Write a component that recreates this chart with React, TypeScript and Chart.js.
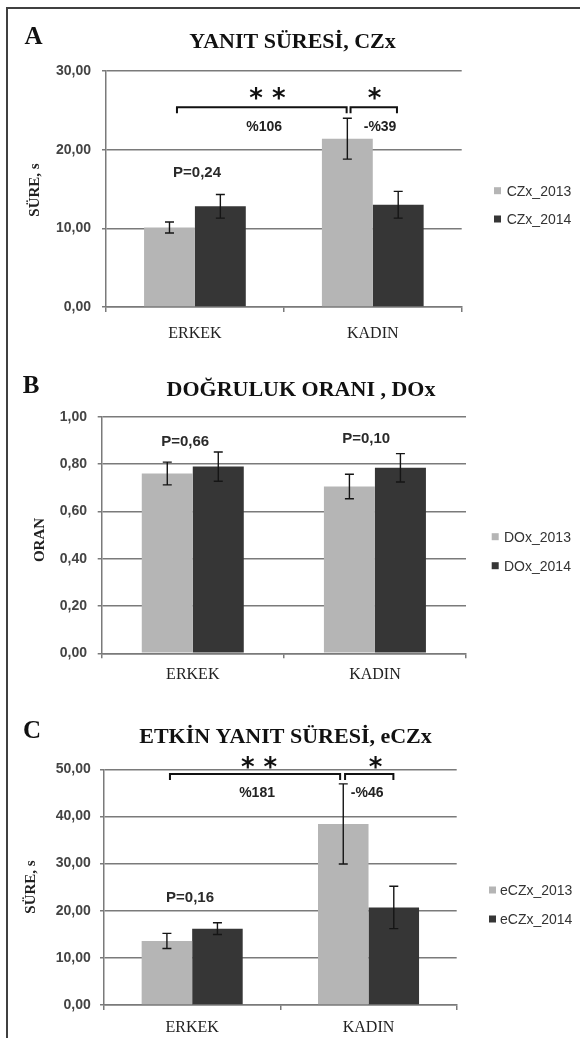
import React, { useEffect, useRef } from "react";
import { Chart, registerables } from "chart.js";

Chart.register(...registerables);

// ---------- data ----------
const categories = ["ERKEK", "KADIN"];

const czx2013 = [10.1, 21.4];
const czx2013Err = [0.7, 2.6];
const czx2014 = [12.8, 13.0];
const czx2014Err = [1.5, 1.7];

const dox2013 = [0.76, 0.705];
const dox2013Err = [0.048, 0.052];
const dox2014 = [0.789, 0.784];
const dox2014Err = [0.062, 0.06];

const eczx2013 = [13.6, 38.4];
const eczx2013Err = [1.6, 8.5];
const eczx2014 = [16.2, 20.7];
const eczx2014Err = [1.25, 4.5];

const yTicksA = { max: 30, step: 10 };
const yTicksB = { max: 1, step: 0.2 };
const yTicksC = { max: 50, step: 10 };

// ---------- styles ----------
const LIGHT = "#b5b5b5";
const DARK = "#363636";
const GRID = "#7a7a7a";
const SANS = "'Liberation Sans', Arial, sans-serif";
const SERIF = "'Liberation Serif', 'Times New Roman', serif";

type Series = { label: string; data: number[]; err: number[]; color: string };
type Note = { text: string; x: number; y: number; kind: "p" | "pct" | "star" };
type Bracket = { x0: number; x1: number; y: number };
type Layout = {
  top: number; height: number; left: number; right: number; plotTop: number; plotBottom: number;
  letterX: number; letterY: number; titleX: number; titleY: number; yTitleX: number; yTitleY: number;
  legendBoxX: number; legendTextX: number; legendY: number[]; catPct: number; xPad: number; yPad: number;
};
type PanelCfg = {
  letter: string; title: string; yTitle: string; yMax: number; yStep: number;
  series: Series[]; notes: Note[]; brackets: Bracket[]; layout: Layout;
};

const panels: PanelCfg[] = [
  {
    letter: "A", title: "YANIT SÜRESİ, CZx", yTitle: "SÜRE, s", yMax: yTicksA.max, yStep: yTicksA.step,
    series: [
      { label: "CZx_2013", data: czx2013, err: czx2013Err, color: LIGHT },
      { label: "CZx_2014", data: czx2014, err: czx2014Err, color: DARK },
    ],
    notes: [
      { text: "* *", x: 0.408, y: 27.2, kind: "star" },
      { text: "*", x: 1.01, y: 27.2, kind: "star" },
      { text: "%106", x: 0.389, y: 23.0, kind: "pct" },
      { text: "-%39", x: 1.041, y: 23.0, kind: "pct" },
      { text: "P=0,24", x: 0.012, y: 17.2, kind: "p" },
    ],
    brackets: [
      { x0: -0.101, x1: 0.853, y: 25.4 },
      { x0: 0.875, x1: 1.136, y: 25.4 },
    ],
    layout: {
      top: 0, height: 350, left: 106, right: 461.7, plotTop: 71, plotBottom: 307,
      letterX: 33.5, letterY: 36, titleX: 292.5, titleY: 41, yTitleX: 34, yTitleY: 190,
      legendBoxX: 494, legendTextX: 506.7, legendY: [190.7, 219], catPct: 0.572, xPad: 12, yPad: 11,
    },
  },
  {
    letter: "B", title: "DOĞRULUK ORANI , DOx", yTitle: "ORAN", yMax: yTicksB.max, yStep: yTicksB.step,
    series: [
      { label: "DOx_2013", data: dox2013, err: dox2013Err, color: LIGHT },
      { label: "DOx_2014", data: dox2014, err: dox2014Err, color: DARK },
    ],
    notes: [
      { text: "P=0,66", x: -0.042, y: 0.9, kind: "p" },
      { text: "P=0,10", x: 0.952, y: 0.91, kind: "p" },
    ],
    brackets: [],
    layout: {
      top: 350, height: 350, left: 101.7, right: 466, plotTop: 416.7, plotBottom: 653.3,
      letterX: 31, letterY: 384.5, titleX: 301, titleY: 389, yTitleX: 39, yTitleY: 540,
      legendBoxX: 491.7, legendTextX: 504, legendY: [536.7, 565.7], catPct: 0.56, xPad: 7, yPad: 10.7,
    },
  },
  {
    letter: "C", title: "ETKİN YANIT SÜRESİ, eCZx", yTitle: "SÜRE, s", yMax: yTicksC.max, yStep: yTicksC.step,
    series: [
      { label: "eCZx_2013", data: eczx2013, err: eczx2013Err, color: LIGHT },
      { label: "eCZx_2014", data: eczx2014, err: eczx2014Err, color: DARK },
    ],
    notes: [
      { text: "* *", x: 0.379, y: 51.5, kind: "star" },
      { text: "*", x: 1.04, y: 51.5, kind: "star" },
      { text: "%181", x: 0.368, y: 45.2, kind: "pct" },
      { text: "-%46", x: 0.992, y: 45.2, kind: "pct" },
      { text: "P=0,16", x: -0.012, y: 22.9, kind: "p" },
    ],
    brackets: [
      { x0: -0.126, x1: 0.839, y: 49.0 },
      { x0: 0.867, x1: 1.141, y: 49.0 },
    ],
    layout: {
      top: 700, height: 338, left: 104, right: 456.7, plotTop: 769.3, plotBottom: 1005,
      letterX: 32, letterY: 730, titleX: 285.5, titleY: 736, yTitleX: 30, yTitleY: 887,
      legendBoxX: 489, legendTextX: 500, legendY: [890, 919], catPct: 0.573, xPad: 8.4, yPad: 9.3,
    },
  },
];

function capText(ctx: CanvasRenderingContext2D, text: string, x: number, yCenter: number, size: number, capRatio: number) {
  ctx.textBaseline = "alphabetic";
  ctx.fillText(text, x, yCenter + (capRatio * size) / 2);
}

function inkCentered(ctx: CanvasRenderingContext2D, text: string, x: number, yCenter: number) {
  ctx.textBaseline = "alphabetic";
  const m = ctx.measureText(text);
  const asc = m.actualBoundingBoxAscent;
  const desc = m.actualBoundingBoxDescent;
  ctx.fillText(text, x, yCenter + (asc - desc) / 2);
}

function Panel({ cfg }: { cfg: PanelCfg }) {
  const ref = useRef<HTMLCanvasElement>(null);
  useEffect(() => {
    const L = cfg.layout;
    const xAxisH = Math.min(40, L.height - (L.plotBottom - L.top));
    const annot = {
      id: "annot" + cfg.letter,
      afterDatasetsDraw(chart: any) {
        const ctx: CanvasRenderingContext2D = chart.ctx;
        const xs = chart.scales.x;
        const ys = chart.scales.y;
        ctx.save();
        // error bars
        ctx.strokeStyle = "#151515";
        ctx.lineWidth = 1.4;
        cfg.series.forEach((s, i) => {
          const meta = chart.getDatasetMeta(i);
          meta.data.forEach((bar: any, j: number) => {
            const x = bar.x;
            const y1 = ys.getPixelForValue(s.data[j] + s.err[j]);
            const y2 = ys.getPixelForValue(s.data[j] - s.err[j]);
            ctx.beginPath();
            ctx.moveTo(x, y1); ctx.lineTo(x, y2);
            ctx.moveTo(x - 4.5, y1); ctx.lineTo(x + 4.5, y1);
            ctx.moveTo(x - 4.5, y2); ctx.lineTo(x + 4.5, y2);
            ctx.stroke();
          });
        });
        // brackets
        ctx.strokeStyle = "#111";
        ctx.lineWidth = 2;
        cfg.brackets.forEach((b) => {
          const x0 = xs.getPixelForValue(b.x0);
          const x1 = xs.getPixelForValue(b.x1);
          const y = ys.getPixelForValue(b.y);
          ctx.beginPath();
          ctx.moveTo(x0, y + 6); ctx.lineTo(x0, y); ctx.lineTo(x1, y); ctx.lineTo(x1, y + 6);
          ctx.stroke();
        });
        // notes
        ctx.textAlign = "center";
        cfg.notes.forEach((n) => {
          const x = xs.getPixelForValue(n.x);
          const y = ys.getPixelForValue(n.y);
          if (n.kind === "star") {
            ctx.fillStyle = "#111";
            ctx.font = "bold 26px 'DejaVu Sans', sans-serif";
            inkCentered(ctx, n.text, x, y);
          } else if (n.kind === "pct") {
            ctx.fillStyle = "#222";
            ctx.font = `bold 14px ${SANS}`;
            capText(ctx, n.text, x, y, 14, 0.716);
          } else {
            ctx.fillStyle = "#2a2a2a";
            ctx.font = `bold 15px ${SANS}`;
            capText(ctx, n.text, x, y, 15, 0.716);
          }
        });
        ctx.restore();
      },
      afterDraw(chart: any) {
        const ctx: CanvasRenderingContext2D = chart.ctx;
        const off = L.top;
        ctx.save();
        ctx.fillStyle = "#111";
        ctx.textAlign = "center";
        ctx.font = `bold 25px ${SERIF}`;
        capText(ctx, cfg.letter, L.letterX, L.letterY - off, 25, 0.662);
        ctx.font = `bold 22px ${SERIF}`;
        capText(ctx, cfg.title, L.titleX, L.titleY - off, 22, 0.662);
        // y title
        ctx.save();
        ctx.translate(L.yTitleX, L.yTitleY - off);
        ctx.rotate(-Math.PI / 2);
        ctx.font = `bold 15px ${SERIF}`;
        ctx.fillStyle = "#222";
        capText(ctx, cfg.yTitle, 0, 0, 15, 0.662);
        ctx.restore();
        // legend
        ctx.textAlign = "left";
        ctx.font = `14px ${SANS}`;
        cfg.series.forEach((s, i) => {
          const y = L.legendY[i] - off;
          ctx.fillStyle = s.color;
          ctx.fillRect(L.legendBoxX, y - 3.5, 7, 7);
          ctx.fillStyle = "#333";
          capText(ctx, s.label, L.legendTextX, y, 14, 0.716);
        });
        ctx.restore();
      },
    };

    const chart = new Chart(ref.current as HTMLCanvasElement, {
      type: "bar",
      data: {
        labels: categories,
        datasets: cfg.series.map((s) => ({
          label: s.label,
          data: s.data,
          backgroundColor: s.color,
          borderWidth: 0,
          categoryPercentage: L.catPct,
          barPercentage: 1,
        })),
      },
      options: {
        responsive: false,
        animation: false,
        devicePixelRatio: 1,
        layout: {
          padding: {
            left: 0,
            right: 580 - L.right,
            top: L.plotTop - L.top,
            bottom: L.height - (L.plotBottom - L.top) - xAxisH,
          },
        },
        plugins: {
          legend: { display: false },
          title: { display: false },
          tooltip: { enabled: false },
        },
        scales: {
          x: {
            grid: { display: true, drawOnChartArea: false, drawTicks: true, tickLength: 5, color: GRID, lineWidth: 1.5 },
            border: { display: true, color: GRID, width: 1.5 },
            ticks: { font: { family: SERIF, size: 16 }, color: "#222", padding: L.xPad },
            afterFit: (s: any) => { s.height = xAxisH; },
          },
          y: {
            min: 0,
            max: cfg.yMax,
            ticks: {
              stepSize: cfg.yStep,
              callback: (v: any) => Number(v).toFixed(2).replace(".", ","),
              font: { family: SANS, size: 14, weight: "bold" },
              color: "#444",
              padding: L.yPad,
            },
            grid: { color: GRID, lineWidth: 1.5, tickLength: 4, drawTicks: true },
            border: { display: true, color: GRID, width: 1.5 },
            afterFit: (s: any) => { s.width = L.left; },
          },
        },
      } as any,
      plugins: [annot],
    });
    return () => chart.destroy();
  }, [cfg]);

  return (
    <canvas
      ref={ref}
      width={580}
      height={cfg.layout.height}
      style={{ position: "absolute", left: 0, top: cfg.layout.top, width: 580, height: cfg.layout.height, display: "block" }}
    />
  );
}

export default function App() {
  return (
    <div style={{ position: "absolute", left: 0, top: 0, width: 580, height: 1038, background: "#fff", overflow: "hidden" }}>
      <div
        style={{
          position: "absolute", left: 6, top: 7, width: 620, height: 1100,
          borderLeft: "2px solid #404040", borderTop: "2px solid #404040",
        }}
      />
      {panels.map((p) => (
        <Panel key={p.letter} cfg={p} />
      ))}
    </div>
  );
}
